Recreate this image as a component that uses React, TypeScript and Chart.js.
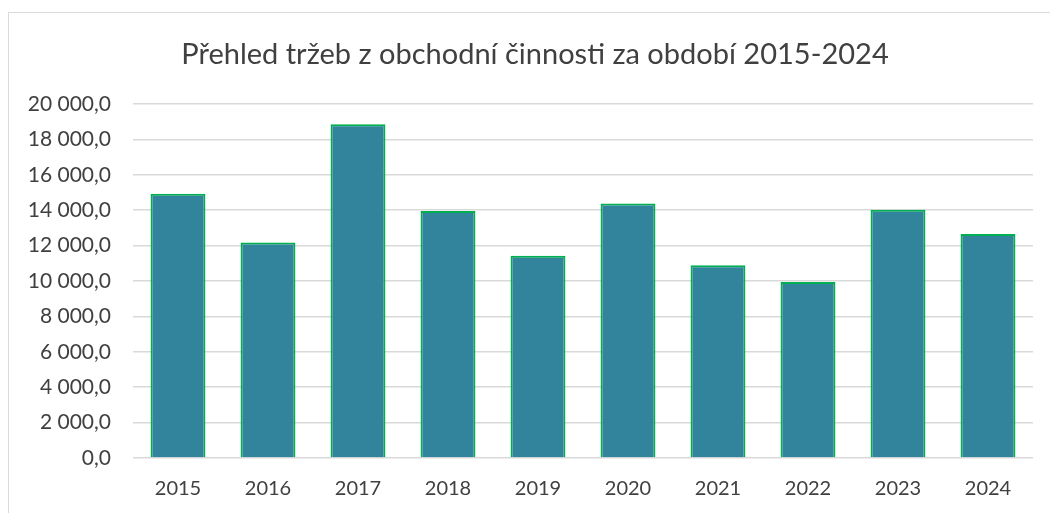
import React, { useEffect, useRef } from "react";
import { Chart, registerables } from "chart.js";

Chart.register(...registerables);

const chartTitle = "Přehled tržeb z obchodní činnosti za období 2015-2024";
const years = ["2015", "2016", "2017", "2018", "2019", "2020", "2021", "2022", "2023", "2024"];
const revenue = [14930, 12180, 18850, 13960, 11420, 14380, 10890, 9950, 14020, 12660];
const yMin = 0;
const yMax = 20000;
const yStep = 2000;

function formatCz(v: number): string {
  const fixed = Math.abs(v).toFixed(1);
  const [intPart, dec] = fixed.split(".");
  const grouped = intPart.replace(/\B(?=(\d{3})+(?!\d))/g, " ");
  return (v < 0 ? "-" : "") + grouped + "," + dec;
}

const textColor = "#404040";

const titlePlugin = {
  id: "excelTitle",
  afterDraw(chart: any) {
    const ctx = chart.ctx;
    ctx.save();
    ctx.font = "normal 29px Lato";
    ctx.fillStyle = textColor;
    ctx.textAlign = "center";
    ctx.textBaseline = "alphabetic";
    ctx.fillText(chartTitle, 526, 50.5);
    ctx.restore();
  },
};

export default function App() {
  const canvasRef = useRef<HTMLCanvasElement | null>(null);

  useEffect(() => {
    document.documentElement.style.overflow = "hidden";
    document.body.style.overflow = "hidden";
    const canvas = canvasRef.current;
    if (!canvas) return;
    const chart = new Chart(canvas, {
      type: "bar",
      data: {
        labels: years,
        datasets: [
          {
            data: revenue,
            backgroundColor: "#31849B",
            borderColor: "#00B050",
            borderWidth: 2,
            borderSkipped: "start",
            barPercentage: 0.61,
            categoryPercentage: 1,
          },
        ],
      },
      options: {
        responsive: false,
        animation: false,
        devicePixelRatio: 1,
        layout: { padding: { left: 0, right: 17, top: 91, bottom: 12 } },
        plugins: {
          legend: { display: false },
          tooltip: { enabled: false },
          title: { display: false },
        },
        scales: {
          x: {
            grid: { display: false, drawTicks: false },
            border: { display: false },
            ticks: {
              color: textColor,
              font: { family: "Lato", size: 20 },
              padding: 19,
              maxRotation: 0,
              autoSkip: false,
            },
            afterFit: (axis: any) => {
              axis.height = 43;
            },
          },
          y: {
            min: yMin,
            max: yMax,
            grid: { color: "#d9d9d9", lineWidth: 1.5, drawTicks: false },
            border: { display: false },
            ticks: {
              stepSize: yStep,
              color: textColor,
              font: { family: "Lato", size: 21 },
              padding: 22,
              callback: (v: any) => formatCz(Number(v)),
            },
            afterFit: (axis: any) => {
              axis.width = 124;
            },
          },
        },
      },
      plugins: [titlePlugin],
    });
    return () => chart.destroy();
  }, []);

  return (
    <div
      style={{
        position: "absolute",
        left: 8,
        top: 12,
        width: 1042,
        height: 501,
        boxSizing: "border-box",
        borderTop: "1px solid #d9d9d9",
        borderLeft: "1px solid #d9d9d9",
        background: "#fff",
      }}
    >
      <canvas
        ref={canvasRef}
        width={1041}
        height={500}
        style={{ display: "block", width: 1041, height: 500 }}
      />
    </div>
  );
}
